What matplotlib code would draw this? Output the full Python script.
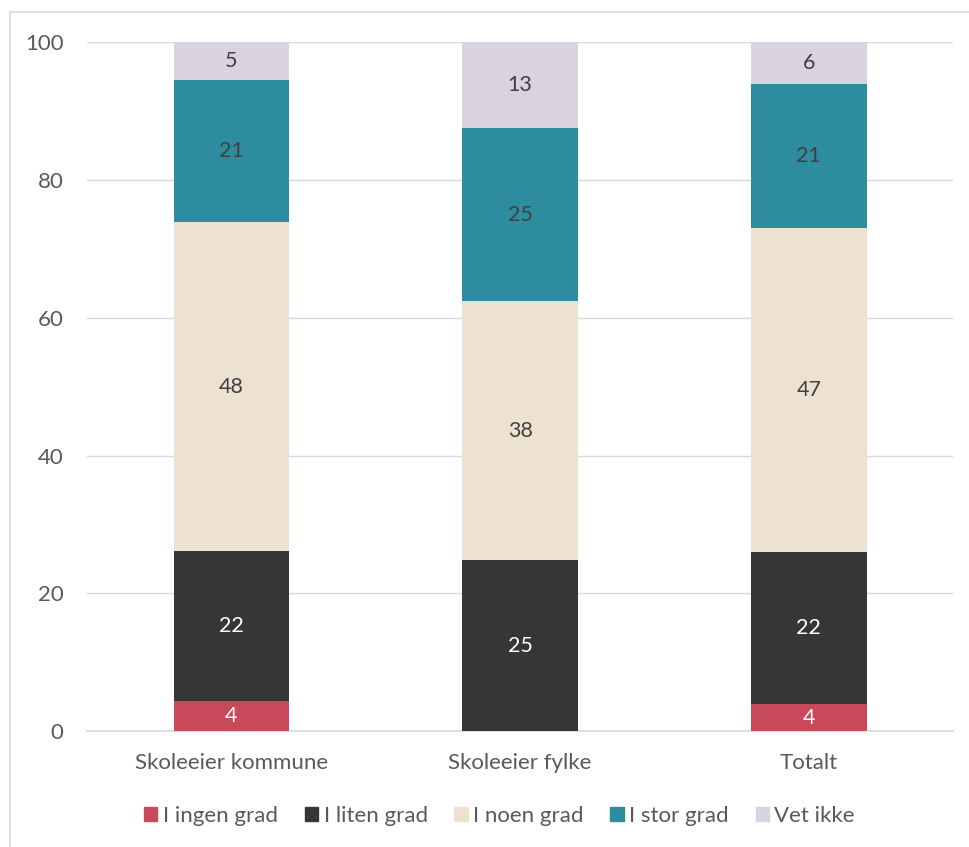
import matplotlib.pyplot as plt
import numpy as np
from matplotlib.lines import Line2D

plt.rcParams['font.family'] = ['Lato', 'DejaVu Sans']

categories = ['Skoleeier kommune', 'Skoleeier fylke', 'Totalt']
series = ['I ingen grad', 'I liten grad', 'I noen grad', 'I stor grad', 'Vet ikke']
ingen = [4.4, 0.0, 3.9]
liten = [21.7, 24.8, 22.1]
noen = [47.8, 37.6, 47.0]
stor = [20.7, 25.1, 21.0]
vet = [5.4, 12.5, 6.0]
labels = [[4, None, 4], [22, 25, 22], [48, 38, 47], [21, 25, 21], [5, 13, 6]]

colors = ['#c84a5a', '#363636', '#ede1d2', '#2d8d9e', '#d9d2e0']
label_colors = ['white', 'white', '#404040', '#404040', '#404040']
txt = '#595959'

fig = plt.figure(figsize=(9.7, 8.47), dpi=100)
ax = fig.add_axes([0.0897, 0.137, 0.893, 0.813])

x = np.arange(len(categories))
bottom = np.zeros(len(categories))
for i, vals in enumerate([ingen, liten, noen, stor, vet]):
    vals = np.array(vals)
    ax.bar(x, vals, 0.4, bottom=bottom, color=colors[i], label=series[i], zorder=3)
    for j in range(len(x)):
        if labels[i][j] is not None and vals[j] > 0:
            ax.text(x[j], bottom[j] + vals[j] / 2, str(labels[i][j]), ha='center', va='center',
                    color=label_colors[i], fontsize=15.5, zorder=4)
    bottom += vals

ax.set_xlim(-0.5, 2.5)
ax.set_ylim(0, 100)
ax.set_yticks([0, 20, 40, 60, 80, 100])
ax.grid(axis='y', color='#d9d9d9', linewidth=1, zorder=0)
for s in ['top', 'right', 'left']:
    ax.spines[s].set_visible(False)
ax.spines['bottom'].set_color('#d9d9d9')
ax.spines['bottom'].set_linewidth(1.2)
ax.tick_params(axis='both', length=0, colors=txt, labelsize=16)
ax.tick_params(axis='y', pad=17)
ax.tick_params(axis='x', pad=16)
ax.set_xticks(x)
ax.set_xticklabels(categories)

handles = [plt.Rectangle((0, 0), 1, 1, color=c) for c in colors]
fig.legend(handles, series, loc='center', bbox_to_anchor=(0.515, 0.037), ncol=5, frameon=False,
           fontsize=16, labelcolor=txt, handlelength=0.6, handleheight=0.6, handletextpad=0.25,
           columnspacing=1.2)

# outer chart border (cut off at right and bottom)
fig.add_artist(Line2D([0.0103, 1.0], [0.986, 0.986], transform=fig.transFigure, color='#d9d9d9', lw=1.2))
fig.add_artist(Line2D([0.0103, 0.0103], [0.0, 0.986], transform=fig.transFigure, color='#d9d9d9', lw=1.2))

plt.savefig('out.png', dpi=100)
